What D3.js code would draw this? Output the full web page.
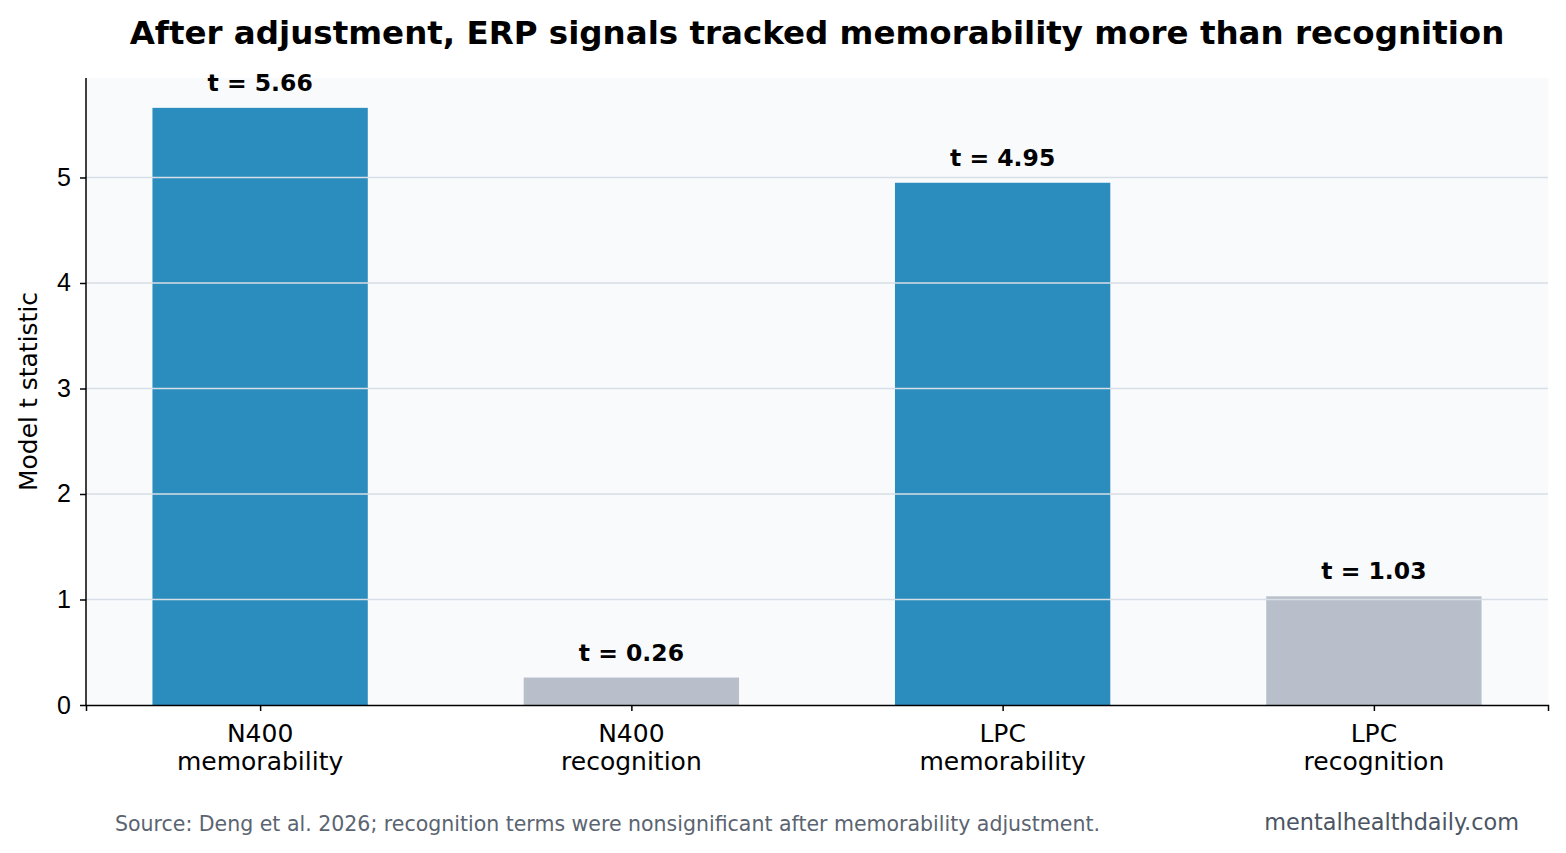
<!DOCTYPE html>
<html>
<head>
<meta charset="utf-8">
<script src="https://cdn.jsdelivr.net/npm/d3@7"></script>
<style>
  body { margin: 0; background: #fff; }
  svg { font-family: "DejaVu Sans", sans-serif; }
</style>
</head>
<body>
<div id="chart"></div>
<script>
// data
const categories = ["N400\nmemorability", "N400\nrecognition", "LPC\nmemorability", "LPC\nrecognition"]
const tValues = [5.66, 0.26, 4.95, 1.03]
const barColors = ["#2b8cbe", "#b8bfca", "#2b8cbe", "#b8bfca"]
const yTicks = [0, 1, 2, 3, 4, 5]

const width = 1566
const height = 853
const margin = { top: 78, bottom: 148, left: 86, right: 18 }

const svg = d3.select("#chart").append("svg")
  .attr("width", width)
  .attr("height", height)

// scales (matplotlib-like: bar width 0.58, 5% margins)
const xScale = d3.scaleLinear()
  .domain([-0.469, 3.469])
  .range([margin.left, width - margin.right])

const yScale = d3.scaleLinear()
  .domain([0, 5.943])
  .range([height - margin.bottom, margin.top])

const barW = 0.58

// plot background
svg.append("rect")
  .attr("x", margin.left)
  .attr("y", margin.top)
  .attr("width", width - margin.right - margin.left)
  .attr("height", height - margin.bottom - margin.top)
  .attr("fill", "#f8fafc")

// bars
svg.selectAll(".bar")
  .data(tValues)
  .join("rect")
    .attr("class", "bar")
    .attr("x", (d, i) => xScale(i - barW / 2))
    .attr("width", (d, i) => xScale(i + barW / 2) - xScale(i - barW / 2))
    .attr("y", d => yScale(d))
    .attr("height", d => yScale(0) - yScale(d))
    .attr("fill", (d, i) => barColors[i])

// grid on top of bars
svg.selectAll(".grid")
  .data(yTicks.filter(d => d > 0))
  .join("line")
    .attr("x1", margin.left)
    .attr("x2", width - margin.right)
    .attr("y1", d => yScale(d))
    .attr("y2", d => yScale(d))
    .attr("stroke", "#d8dee6")
    .attr("stroke-width", 1.5)

// value labels
svg.selectAll(".val")
  .data(tValues)
  .join("text")
    .attr("x", (d, i) => xScale(i))
    .attr("y", d => yScale(d) - 17)
    .attr("text-anchor", "middle")
    .style("font-size", "23.5px")
    .style("font-weight", "bold")
    .text(d => "t = " + d.toFixed(2))

// axes
const yAxis = d3.axisLeft(yScale).tickValues(yTicks).tickFormat(d3.format("d")).tickSizeOuter(0).tickSize(6).tickPadding(9)
const yG = svg.append("g")
  .attr("transform", `translate(${margin.left},0)`)
  .call(yAxis)
yG.selectAll("text").style("font-size", "25px").attr("fill", "#000")
yG.selectAll(".tick line").attr("stroke-width", 1.5)
yG.select(".domain").attr("stroke", "#000").attr("stroke-width", 1.5)
  .attr("d", `M0,${yScale(0)}V${margin.top}`)

const xAxis = d3.axisBottom(xScale).tickValues([0, 1, 2, 3]).tickFormat("").tickSizeOuter(0).tickSize(6)
const xG = svg.append("g")
  .attr("transform", `translate(0,${yScale(0)})`)
  .call(xAxis)
xG.selectAll(".tick line").attr("stroke-width", 1.5)
xG.select(".domain").attr("stroke", "#000").attr("stroke-width", 1.5)

// category labels, two lines each
svg.selectAll(".cat")
  .data(categories)
  .join("text")
    .attr("text-anchor", "middle")
    .style("font-size", "25px")
    .attr("transform", (d, i) => `translate(${xScale(i)},${yScale(0) + 37})`)
  .selectAll("tspan")
  .data(d => d.split("\n"))
  .join("tspan")
    .attr("x", 0)
    .attr("dy", (d, i) => i === 0 ? 0 : 28)
    .text(d => d)

// y label
svg.append("text")
  .attr("transform", `translate(37,${(yScale(0) + margin.top) / 2}) rotate(-90)`)
  .attr("text-anchor", "middle")
  .style("font-size", "25px")
  .text("Model t statistic")

// title
svg.append("text")
  .attr("x", 817)
  .attr("y", 44)
  .attr("text-anchor", "middle")
  .style("font-size", "32.5px")
  .style("font-weight", "bold")
  .text("After adjustment, ERP signals tracked memorability more than recognition")

// footer
svg.append("text")
  .attr("x", 115)
  .attr("y", 831)
  .style("font-size", "20.5px")
  .attr("fill", "#5b6470")
  .text("Source: Deng et al. 2026; recognition terms were nonsignificant after memorability adjustment.")

svg.append("text")
  .attr("x", 1519)
  .attr("y", 830)
  .attr("text-anchor", "end")
  .style("font-size", "22.4px")
  .attr("fill", "#4b5563")
  .text("mentalhealthdaily.com")
</script>
</body>
</html>
